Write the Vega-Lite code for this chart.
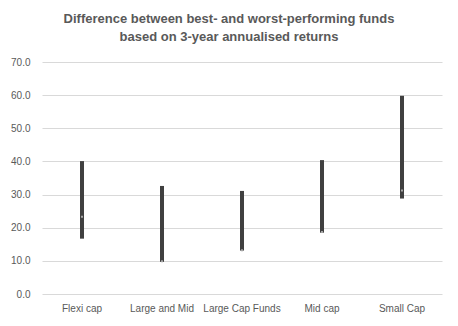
{
  "$schema": "https://vega.github.io/schema/vega-lite/v6.json",
  "width": 400,
  "height": 232,
  "autosize": {"type": "none"},
  "padding": {"left": 42, "top": 62, "right": 16, "bottom": 32},
  "background": "white",
  "title": {
    "text": ["Difference between best- and worst-performing funds", "based on 3-year annualised returns"],
    "anchor": "middle",
    "frame": "group",
    "dx": -13,
    "font": "Liberation Sans",
    "fontSize": 13,
    "fontWeight": "bold",
    "color": "#595959",
    "lineHeight": 18,
    "offset": 13
  },
  "data": {
    "values": [
      {"category": "Flexi cap", "low": 16.7, "high": 40.1, "close": 23.3},
      {"category": "Large and Mid", "low": 9.7, "high": 32.6, "close": 9.9},
      {"category": "Large Cap Funds", "low": 13.1, "high": 31.1, "close": 13.2},
      {"category": "Mid cap", "low": 18.5, "high": 40.4, "close": 18.7},
      {"category": "Small Cap", "low": 28.8, "high": 59.8, "close": 31.2}
    ]
  },
  "encoding": {
    "x": {
      "field": "category",
      "type": "nominal",
      "sort": null,
      "scale": {"paddingInner": 0, "paddingOuter": 0},
      "axis": {
        "title": null,
        "labelAngle": 0,
        "domain": false,
        "ticks": false,
        "labelPadding": 9,
        "labelFont": "Liberation Sans",
        "labelFontSize": 10,
        "labelColor": "#595959"
      }
    }
  },
  "layer": [
    {
      "mark": {"type": "rule", "strokeWidth": 4, "color": "#404040"},
      "encoding": {
        "y": {
          "field": "low",
          "type": "quantitative",
          "scale": {"domain": [0, 70], "nice": false},
          "axis": {
            "title": null,
            "values": [0, 10, 20, 30, 40, 50, 60, 70],
            "format": ".1f",
            "domain": false,
            "ticks": false,
            "labelOverlap": false,
            "labelPadding": 12,
            "gridColor": "#d9d9d9",
            "labelFont": "Liberation Sans",
            "labelFontSize": 10,
            "labelColor": "#595959"
          }
        },
        "y2": {"field": "high"}
      }
    },
    {
      "mark": {"type": "square", "size": 4, "color": "#a6a6a6", "opacity": 1},
      "encoding": {
        "y": {
          "field": "close",
          "type": "quantitative",
          "axis": {
            "title": null,
            "values": [0, 10, 20, 30, 40, 50, 60, 70],
            "format": ".1f",
            "domain": false,
            "ticks": false,
            "labelOverlap": false,
            "labelPadding": 12,
            "gridColor": "#d9d9d9",
            "labelFont": "Liberation Sans",
            "labelFontSize": 10,
            "labelColor": "#595959"
          }
        }
      }
    }
  ],
  "config": {
    "view": {"stroke": null}
  }
}
